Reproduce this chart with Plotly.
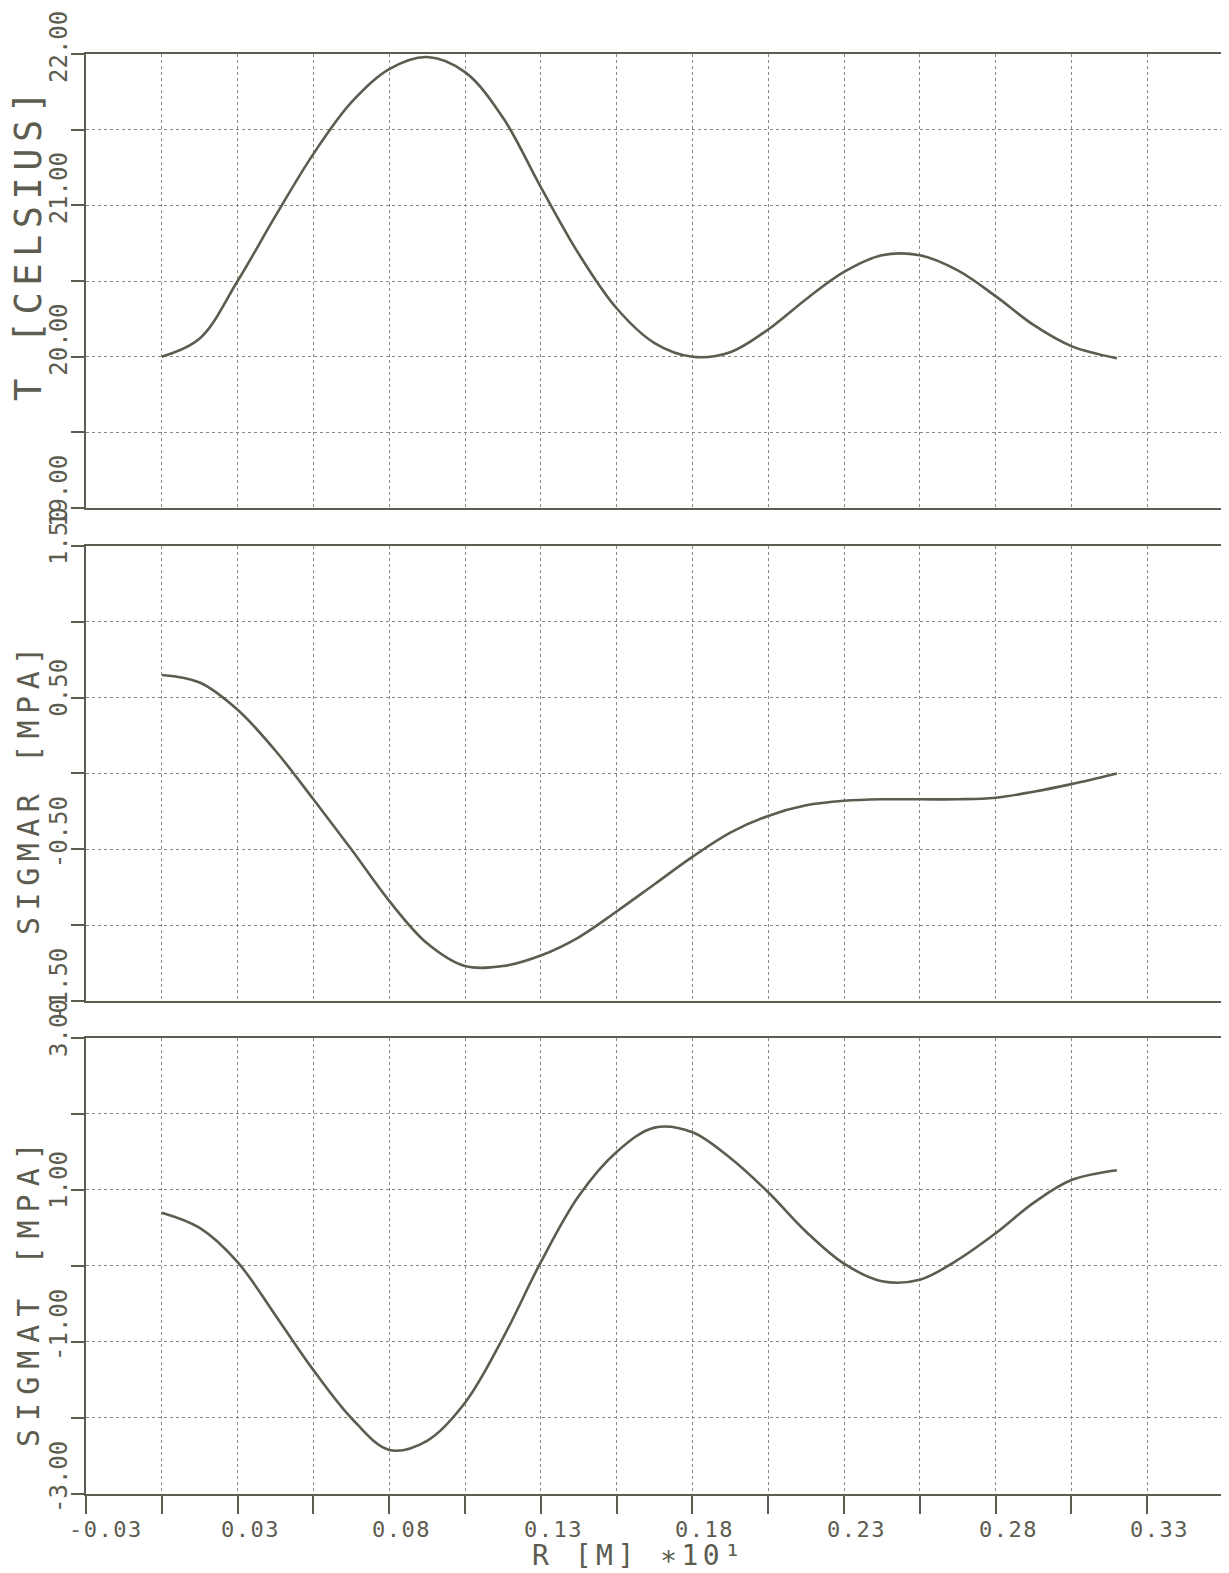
import plotly.graph_objects as go

# ---------------- data ----------------
R = [0.0, 0.0125, 0.025, 0.0375, 0.05, 0.0625, 0.075, 0.0875, 0.1, 0.1125,
     0.125, 0.1375, 0.15, 0.1625, 0.175, 0.1875, 0.2, 0.2125, 0.225, 0.2375,
     0.25, 0.2625, 0.275, 0.2875, 0.3, 0.315]

T = [20.00, 20.12, 20.50, 20.93, 21.34, 21.68, 21.90, 21.98, 21.88, 21.58,
     21.12, 20.68, 20.32, 20.09, 20.00, 20.03, 20.18, 20.38, 20.56, 20.67,
     20.67, 20.57, 20.40, 20.21, 20.07, 19.99]

SIGMAR = [0.65, 0.60, 0.42, 0.15, -0.17, -0.50, -0.84, -1.12, -1.27, -1.27,
          -1.20, -1.08, -0.91, -0.73, -0.55, -0.39, -0.28, -0.21, -0.18, -0.17,
          -0.17, -0.17, -0.16, -0.12, -0.07, 0.00]

SIGMAT = [0.70, 0.50, 0.05, -0.65, -1.37, -2.00, -2.42, -2.30, -1.80, -0.95,
          0.05, 0.92, 1.50, 1.82, 1.76, 1.42, 0.97, 0.45, 0.03, -0.20,
          -0.18, 0.08, 0.43, 0.83, 1.13, 1.26]

X_TICK_VALUES = [-0.025, 0.025, 0.075, 0.125, 0.175, 0.225, 0.275, 0.325]
X_TICK_LABELS = ["-0.03", "0.03", "0.08", "0.13", "0.18", "0.23", "0.28", "0.33"]

T_TICK_VALUES = [22, 21, 20, 19]
T_TICK_LABELS = ["22.00", "21.00", "20.00", "19.00"]
SR_TICK_VALUES = [1.5, 0.5, -0.5, -1.5]
SR_TICK_LABELS = ["1.50", "0.50", "-0.50", "-1.50"]
ST_TICK_VALUES = [3, 1, -1, -3]
ST_TICK_LABELS = ["3.00", "1.00", "-1.00", "-3.00"]

X_TITLE = "R [M] ∗10¹"
Y_TITLES = ["T [CELSIUS]", "SIGMAR [MPA]", "SIGMAT [MPA]"]

# ---------------- style ----------------
INK = "#5c5c50"
GRID = "#8a8a80"
FONT = "DejaVu Sans Mono"


def spaced(text, px):
    return f'<span style="letter-spacing:{px}px">{text}</span>'


fig = go.Figure()
for i, ys in enumerate([T, SIGMAR, SIGMAT], start=1):
    fig.add_trace(go.Scatter(
        x=R, y=ys, mode="lines",
        line=dict(color=INK, width=2.6, shape="spline", smoothing=1.0),
        xaxis="x" if i == 1 else f"x{i}",
        yaxis="y" if i == 1 else f"y{i}",
        showlegend=False, hoverinfo="skip"))

common_x = dict(range=[-0.025, 0.35], tick0=-0.025, dtick=0.025,
                showgrid=True, gridcolor=GRID, griddash="dot", gridwidth=1,
                showline=True, linecolor=INK, linewidth=2, mirror=True,
                zeroline=False, showticklabels=False, domain=[0, 1])
common_y = dict(showgrid=True, gridcolor=GRID, griddash="dot", gridwidth=1,
                showline=True, linecolor=INK, linewidth=2, mirror=True,
                zeroline=False, showticklabels=False,
                ticks="outside", ticklen=13, tickwidth=2, tickcolor=INK)

# the page body has an 8px default margin; the figure is sized so that
# the plot sits where it does in the reference window
fig.update_layout(
    width=1221, height=1565,
    margin=dict(l=78, r=4, t=46, b=79),
    paper_bgcolor="white", plot_bgcolor="white",
    font=dict(family=FONT, color=INK),
    xaxis=dict(common_x, anchor="y", ticks=""),
    xaxis2=dict(common_x, anchor="y2", ticks=""),
    xaxis3=dict(common_x, anchor="y3", ticks="outside", ticklen=18,
                tickwidth=2, tickcolor=INK),
    yaxis=dict(common_y, anchor="x", domain=[0.6847, 1.0], range=[19, 22],
               tick0=19, dtick=0.5),
    yaxis2=dict(common_y, anchor="x2", domain=[0.3424, 0.6583],
                range=[-1.5, 1.5], tick0=-1.5, dtick=0.5),
    yaxis3=dict(common_y, anchor="x3", domain=[0.0, 0.3167],
                range=[-3, 3], tick0=-3, dtick=1.0),
)

ann = []
# x tick labels (left-aligned a little before the tick, plotter style)
for v, lab in zip(X_TICK_VALUES, X_TICK_LABELS):
    ann.append(dict(x=v, xref="x3", y=0, yref="paper", text=spaced(lab, 1.5),
                    showarrow=False, xanchor="left", yanchor="middle",
                    xshift=-19, yshift=-35,
                    font=dict(family=FONT, size=22, color=INK)))

# y tick labels: rotated, starting just below the tick and running upward
for yref, vals, labs in [("y", T_TICK_VALUES, T_TICK_LABELS),
                         ("y2", SR_TICK_VALUES, SR_TICK_LABELS),
                         ("y3", ST_TICK_VALUES, ST_TICK_LABELS)]:
    for k, (v, lab) in enumerate(zip(vals, labs)):
        shift = -31 if (yref == "y" and k == 0) else -21
        ann.append(dict(x=0, xref="paper", y=v, yref=yref, text=lab,
                        showarrow=False, textangle=-90,
                        xanchor="center", yanchor="bottom",
                        xshift=-27, yshift=shift,
                        font=dict(family=FONT, size=24, color=INK)))

# y axis titles
for title, ypos, size, sp in [(Y_TITLES[0], 0.8688, 37, 6.5),
                              (Y_TITLES[1], 0.4903, 30, 6.5),
                              (Y_TITLES[2], 0.1410, 30, 8)]:
    ann.append(dict(x=0, xref="paper", y=ypos, yref="paper",
                    text=spaced(title, sp), showarrow=False, textangle=-90,
                    xanchor="center", yanchor="middle", xshift=-57,
                    font=dict(family=FONT, size=size, color=INK)))

# x axis title
ann.append(dict(x=0.4864, xref="paper", y=-0.0428, yref="paper",
                text=spaced(X_TITLE, 4.5), showarrow=False,
                xanchor="center", yanchor="middle",
                font=dict(family=FONT, size=28, color=INK)))

fig.update_layout(annotations=ann)
fig.write_html("out.html")
